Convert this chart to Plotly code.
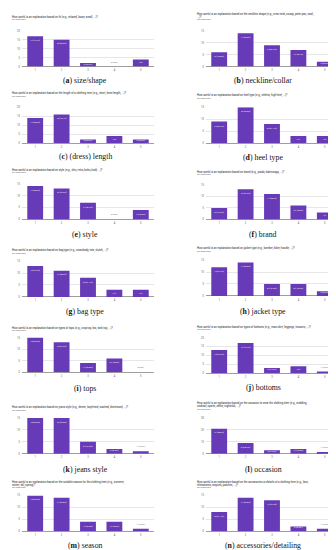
import plotly.graph_objects as go

# ---------------- data ----------------
categories = ["1", "2", "3", "4", "5"]
n_responses = 38

size_shape = [17, 15, 2, 0, 4]
neckline_collar = [6, 14, 9, 7, 2]
dress_length = [14, 16, 2, 4, 2]
heel_type = [9, 15, 8, 3, 3]
style = [14, 13, 7, 0, 4]
brand = [5, 13, 11, 6, 3]
bag_type = [13, 11, 8, 3, 3]
jacket_type = [12, 14, 5, 5, 2]
tops = [15, 13, 4, 6, 0]
bottoms = [13, 17, 3, 4, 1]
jeans_style = [15, 15, 5, 2, 1]
occasion = [21, 9, 3, 4, 1]
season = [15, 14, 4, 4, 1]
accessories = [8, 14, 13, 2, 1]

letters = ["a", "b", "c", "d", "e", "f", "g", "h", "i", "j", "k", "l", "m", "n"]
captions = ["size/shape", "neckline/collar", "(dress) length", "heel type", "style", "brand",
            "bag type", "jacket type", "tops", "bottoms", "jeans style", "occasion",
            "season", "accessories/detailing"]
questions = [
    ["How useful is an explanation based on fit (e.g., relaxed, loose, small, ...)?"],
    ["How useful is an explanation based on the neckline shape (e.g., crew neck, scoop, peter pan, cowl,", "...)?"],
    ["How useful is an explanation based on the length of a clothing item (e.g., short, knee length, ...)?"],
    ["How useful is an explanation based on heel type (e.g., stiletto, high heel, ...)?"],
    ["How useful is an explanation based on style (e.g., chic, retro, boho, bold, ...)?"],
    ["How useful is an explanation based on brand (e.g., prada, balenciaga, ...)?"],
    ["How useful is an explanation based on bag type (e.g., crossbody, tote, clutch, ...)?"],
    ["How useful is an explanation based on jacket type (e.g., bomber, biker, hoodie, ...)?"],
    ["How useful is an explanation based on types of tops (e.g., crop top, bra, tank top, ...)?"],
    ["How useful is an explanation based on types of bottoms (e.g., maxi skirt, leggings, trousers, ...)?"],
    ["How useful is an explanation based on jeans style (e.g., denim, boyfriend, washed, distressed, ...)?"],
    ["How useful is an explanation based on the occasion to wear the clothing item (e.g., wedding,", "cocktail, sports, office, nightclub, ...)?"],
    ["How useful is an explanation based on the suitable season for the clothing item (e.g., summer,", "winter, fall, spring)?"],
    ["How useful is an explanation based on the accessories or details of a clothing item (e.g., lace,", "rhinestones, sequins, patches, ...)?"],
]
series = [size_shape, neckline_collar, dress_length, heel_type, style, brand, bag_type,
          jacket_type, tops, bottoms, jeans_style, occasion, season, accessories]
y_max = [20, 15, 20, 15, 15, 15, 15, 15, 15, 20, 15, 30, 15, 15]
y_step = [5, 5, 5, 5, 5, 5, 5, 5, 5, 5, 5, 10, 5, 5]

# ---------------- layout geometry (pixels) ----------------
W, H = 336, 550
# (plot top, baseline, first title line y, caption y)
geom = [
    (21, 57, 7, 71), (21, 57, 4, 71),
    (98, 134, 84, 148), (98, 134, 86, 149),
    (175, 211, 161, 226), (176, 211, 163, 226),
    (253, 289, 242, 304), (252, 288, 240, 304),
    (330, 365, 320, 381), (330, 366, 319, 380),
    (411, 447, 400, 463), (411, 447, 396, 463),
    (489, 525, 475, 539), (489, 525, 475, 539),
]
col_x = [(14, 146), (198, 330)]
title_x = [2, 187]
cap_cx = [77, 255]

PURPLE = "#673ab7"
fig = go.Figure()
annotations = []
layout = dict(
    width=W, height=H, margin=dict(l=0, r=0, t=0, b=0),
    paper_bgcolor="white", plot_bgcolor="white", showlegend=False,
    bargap=0.4, font=dict(family="Roboto, Arial, sans-serif", color="#202124"),
)


def px_x(v):
    return v / W


def px_y(v):
    return 1 - v / H


def fmt_pct(v):
    p = v / n_responses * 100
    if abs(p - round(p)) < 1e-9:
        return f"{v} ({int(round(p))}%)"
    return f"{v} ({p:.1f}%)"


for i, vals in enumerate(series):
    k = i + 1
    col = i % 2
    top, base, ty, cy = geom[i]
    xa = "x" if k == 1 else f"x{k}"
    ya = "y" if k == 1 else f"y{k}"
    pos = ["inside" if v >= 2 else "outside" for v in vals]
    tcol = ["white" if v >= 2 else "#5f6368" for v in vals]
    fig.add_trace(go.Bar(
        x=categories, y=vals, xaxis=xa, yaxis=ya,
        marker=dict(color=PURPLE, line=dict(width=0)),
        text=[fmt_pct(v) for v in vals], textposition=pos,
        insidetextanchor="end", textangle=0,
        textfont=dict(size=2.4, color=tcol), cliponaxis=False,
        hoverinfo="skip",
    ))
    layout["xaxis" if k == 1 else f"xaxis{k}"] = dict(
        domain=[px_x(col_x[col][0]), px_x(col_x[col][1])], anchor=ya,
        type="category", showgrid=False, showline=False, ticks="",
        tickfont=dict(size=2.6, color="#5f6368"), ticklabelstandoff=1,
        fixedrange=True,
    )
    layout["yaxis" if k == 1 else f"yaxis{k}"] = dict(
        domain=[px_y(base), px_y(top)], anchor=xa,
        range=[0, y_max[i]], dtick=y_step[i], tick0=0,
        showgrid=True, gridcolor="#e6e6e6", gridwidth=0.5,
        zeroline=True, zerolinecolor="#9e9e9e", zerolinewidth=0.6,
        showline=False, ticks="", tickfont=dict(size=2.6, color="#5f6368"),
        ticklabelstandoff=1, fixedrange=True,
    )
    # question title lines
    for j, line in enumerate(questions[i]):
        annotations.append(dict(
            x=px_x(title_x[col]), y=px_y(ty + 3 * j), xref="paper", yref="paper",
            xanchor="left", yanchor="middle", showarrow=False, text=line,
            font=dict(size=2.7, color="#202124"),
        ))
    annotations.append(dict(
        x=px_x(title_x[col]), y=px_y(ty + 3 * len(questions[i])), xref="paper", yref="paper",
        xanchor="left", yanchor="middle", showarrow=False,
        text=f"{n_responses} responses", font=dict(size=2.3, color="#5f6368"),
    ))
    # caption
    annotations.append(dict(
        x=px_x(cap_cx[col]), y=px_y(cy), xref="paper", yref="paper",
        xanchor="center", yanchor="middle", showarrow=False, borderpad=0,
        text=f"(<b>{letters[i]}</b>) {captions[i]}",
        font=dict(size=7.8, family="Liberation Serif, DejaVu Serif, serif", color="#111111"),
    ))

layout["annotations"] = annotations
fig.update_layout(**layout)
fig.write_html("out.html")
